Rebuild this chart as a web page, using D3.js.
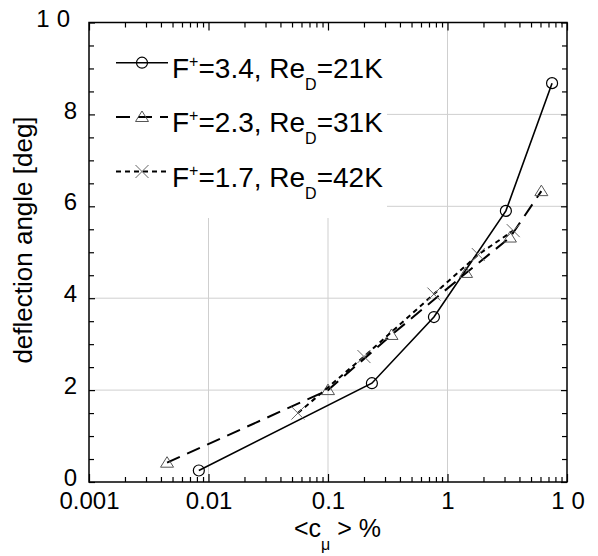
<!DOCTYPE html>
<html><head><meta charset="utf-8">
<script src="https://cdn.jsdelivr.net/npm/d3@7"></script>
<style>
body{margin:0;background:#fff;}
text{font-family:"Liberation Sans",Arial,sans-serif;fill:#000;}
</style></head>
<body>
<svg id="chart" width="598" height="556"></svg>
<script>
// ---- data ----
const legendF = ["3.4", "2.3", "1.7"];
const legendRe = ["21K", "31K", "42K"];
const s1x = [0.0083, 0.233, 0.77, 3.08, 7.5];
const s1y = [0.25, 2.15, 3.59, 5.9, 8.68];
const s2x = [0.0045, 0.1, 0.34, 1.43, 3.33, 6.1];
const s2y = [0.42, 2.0, 3.2, 4.55, 5.32, 6.33];
const s3x = [0.056, 0.2, 0.77, 1.81, 3.55];
const s3y = [1.5, 2.73, 4.09, 4.95, 5.47];
const xTickValues = [0.001, 0.01, 0.1, 1, 10];
const xTickLabels = ["0.001", "0.01", "0.1", "1", "10"];
const yTickValues = [0, 2, 4, 6, 8, 10];
const yTickLabels = ["0", "2", "4", "6", "8", "10"];

const svg = d3.select("#chart");
const L = 89, R = 567, T = 22.5, B = 482;
const x = d3.scaleLog().domain([0.001, 10]).range([L, R]);
const y = d3.scaleLinear().domain([0, 10]).range([B, T]);

// minor ticks
const xMinor = [];
[0.001, 0.01, 0.1, 1].forEach(d => { for (let k = 2; k <= 9; k++) xMinor.push(d * k); });
const yMinor = d3.range(0, 10.01, 0.5).filter(v => v % 2 !== 0);

// gridlines
const grid = svg.append("g");
grid.selectAll("line.gx").data([0.01, 0.1, 1]).join("line")
  .attr("x1", d => x(d)).attr("x2", d => x(d)).attr("y1", T).attr("y2", B)
  .attr("stroke", "#cfcfcf").attr("stroke-width", 1);
grid.selectAll("line.gy").data([2, 4, 6, 8]).join("line")
  .attr("y1", d => y(d)).attr("y2", d => y(d)).attr("x1", L).attr("x2", R)
  .attr("stroke", "#cfcfcf").attr("stroke-width", 1);

// legend background (covers gridlines)
svg.append("rect").attr("x", L + 1).attr("y", T + 1).attr("width", 386 - L).attr("height", 217 - T)
  .attr("fill", "#fff");

// axes
function styleAxis(g) {
  g.select(".domain").remove();
  g.selectAll(".tick line").attr("stroke", "#000").attr("stroke-width", 1.2);
}
svg.append("g").attr("transform", `translate(0,${B})`)
  .call(d3.axisBottom(x).tickValues(xMinor).tickSize(-5).tickFormat(""))
  .call(styleAxis);
const xb = svg.append("g").attr("transform", `translate(0,${B})`)
  .call(d3.axisBottom(x).tickValues(xTickValues).tickSize(-8).tickPadding(10)
    .tickFormat((d, i) => xTickLabels[i]))
  .call(styleAxis);
xb.selectAll(".tick text").attr("font-size", 24).attr("font-family", '"Liberation Sans",Arial,sans-serif')
  .attr("fill", "#000")
  .attr("letter-spacing", (d, i) => xTickLabels[i] === "10" ? "7px" : "0px")
  .attr("dx", (d, i) => xTickLabels[i] === "10" ? "4px" : "0px");
svg.append("g").attr("transform", `translate(0,${T})`)
  .call(d3.axisTop(x).tickValues(xMinor).tickSize(-5).tickFormat("")).call(styleAxis);
svg.append("g").attr("transform", `translate(0,${T})`)
  .call(d3.axisTop(x).tickValues(xTickValues).tickSize(-8).tickFormat("")).call(styleAxis);

svg.append("g").attr("transform", `translate(${L},0)`)
  .call(d3.axisLeft(y).tickValues(yMinor).tickSize(-5).tickFormat("")).call(styleAxis);
const yl = svg.append("g").attr("transform", `translate(${L},0)`)
  .call(d3.axisLeft(y).tickValues(yTickValues).tickSize(-6).tickPadding(12)
    .tickFormat((d, i) => yTickLabels[i]))
  .call(styleAxis);
yl.selectAll(".tick text").attr("font-size", 24).attr("font-family", '"Liberation Sans",Arial,sans-serif')
  .attr("fill", "#000").attr("dy", "0.15em")
  .attr("letter-spacing", (d, i) => yTickLabels[i] === "10" ? "7px" : "0px");
svg.append("g").attr("transform", `translate(${R},0)`)
  .call(d3.axisRight(y).tickValues(yMinor).tickSize(-5).tickFormat("")).call(styleAxis);
svg.append("g").attr("transform", `translate(${R},0)`)
  .call(d3.axisRight(y).tickValues(yTickValues).tickSize(-6).tickFormat("")).call(styleAxis);

// frame
svg.append("rect").attr("x", L).attr("y", T).attr("width", R - L).attr("height", B - T)
  .attr("fill", "none").attr("stroke", "#000").attr("stroke-width", 1.5);

// axis titles
const xt = svg.append("text").attr("x", 294).attr("y", 537).attr("font-size", 25);
xt.append("tspan").text("<c");
xt.append("tspan").attr("font-size", 16).attr("dy", 13).text("μ");
xt.append("tspan").attr("dy", -13).text(" > %");
svg.append("text").attr("transform", "translate(32,240) rotate(-90)")
  .attr("text-anchor", "middle").attr("font-size", 26).text("deflection angle [deg]");

// series
const line = d3.line().x(d => x(d[0])).y(d => y(d[1]));
const S = [
  { xs: s1x, ys: s1y, dash: null, w: 1.6, m: "circle" },
  { xs: s2x, ys: s2y, dash: "14,8", w: 2, m: "tri" },
  { xs: s3x, ys: s3y, dash: "5,4", w: 2, m: "x" }
];
function marker(g, type, cx, cy) {
  if (type === "circle") {
    g.append("circle").attr("cx", cx).attr("cy", cy).attr("r", 5.5)
      .attr("fill", "none").attr("stroke", "#000").attr("stroke-width", 1.2);
  } else if (type === "tri") {
    const h = 6;
    g.append("path").attr("d", `M${cx},${cy - h}L${cx + 6.5},${cy + 4.5}L${cx - 6.5},${cy + 4.5}Z`)
      .attr("fill", "none").attr("stroke", "#555").attr("stroke-width", 1);
  } else {
    const a = 6.5;
    g.append("path").attr("d", `M${cx - a},${cy - a}L${cx + a},${cy + a}M${cx - a},${cy + a}L${cx + a},${cy - a}`)
      .attr("fill", "none").attr("stroke", "#666").attr("stroke-width", 1);
  }
}
S.forEach(s => {
  const pts = s.xs.map((v, i) => [v, s.ys[i]]);
  svg.append("path").datum(pts).attr("d", line).attr("fill", "none")
    .attr("stroke", "#000").attr("stroke-width", s.w)
    .attr("stroke-dasharray", s.dash);
  const g = svg.append("g");
  pts.forEach(p => marker(g, s.m, x(p[0]), y(p[1])));
});

// legend
const legY = [62.7, 117, 171.5];
S.forEach((s, i) => {
  const yy = legY[i];
  svg.append("line").attr("x1", 116).attr("x2", 168).attr("y1", yy).attr("y2", yy)
    .attr("stroke", "#000").attr("stroke-width", s.w).attr("stroke-dasharray", s.dash);
  marker(svg, s.m, 142, yy);
  const t = svg.append("text").attr("x", 172).attr("y", yy + 15).attr("font-size", 28);
  t.append("tspan").text("F");
  t.append("tspan").attr("font-size", 16).attr("dy", -11).text("+");
  t.append("tspan").attr("dy", 11).text("=" + legendF[i] + ", Re");
  t.append("tspan").attr("font-size", 16).attr("dy", 12).text("D");
  t.append("tspan").attr("dy", -12).text("=" + legendRe[i]);
});
</script>
</body></html>
